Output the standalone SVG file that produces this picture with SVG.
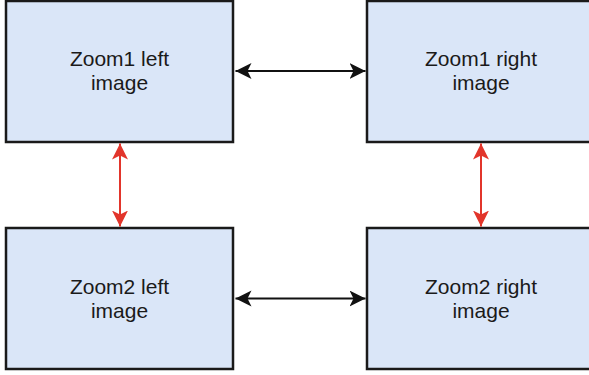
<svg xmlns="http://www.w3.org/2000/svg" width="589" height="375" viewBox="0 0 589 375">
<style>
.box{fill:#dae6f8;stroke:#1a1a1a;stroke-width:2.5}
.lbl{font-family:"Liberation Sans",Arial,sans-serif;font-size:21px;fill:#1a1a1a;text-anchor:middle}
.blk{stroke:#111;stroke-width:2;fill:none;marker-start:url(#ab);marker-end:url(#ab)}
.red{stroke:#e2352b;stroke-width:2;fill:none;marker-start:url(#ar);marker-end:url(#ar)}
</style>
<defs>
<marker id="ab" markerUnits="userSpaceOnUse" markerWidth="17" markerHeight="17" refX="16" refY="8" orient="auto-start-reverse" viewBox="0 0 17 17">
<path d="M16,8 L0,0 L4,8 L0,16 Z" fill="#111"/>
</marker>
<marker id="ar" markerUnits="userSpaceOnUse" markerWidth="17" markerHeight="17" refX="16" refY="8" orient="auto-start-reverse" viewBox="0 0 17 17">
<path d="M16,8 L0,0 L4,8 L0,16 Z" fill="#e2352b"/>
</marker>
</defs>
<g id="zoom1-left"><rect class="box" x="6" y="1" width="227" height="141"/><text class="lbl" x="119.5" y="66">Zoom1 left</text><text class="lbl" x="119.5" y="90">image</text></g>
<g id="zoom1-right"><rect class="box" x="367" y="1" width="227" height="141"/><text class="lbl" x="481" y="66">Zoom1 right</text><text class="lbl" x="481" y="90">image</text></g>
<g id="zoom2-left"><rect class="box" x="6" y="228" width="227" height="141"/><text class="lbl" x="119.5" y="294">Zoom2 left</text><text class="lbl" x="119.5" y="318">image</text></g>
<g id="zoom2-right"><rect class="box" x="367" y="228" width="227" height="141"/><text class="lbl" x="481" y="294">Zoom2 right</text><text class="lbl" x="481" y="318">image</text></g>
<g id="connectors">
<path class="blk" d="M235.5,71 L365.5,71"/>
<path class="blk" d="M235.5,298.5 L365.5,298.5"/>
<path class="red" d="M120,143.5 L120,226.5"/>
<path class="red" d="M481,143.5 L481,226.5"/>
</g>
</svg>
